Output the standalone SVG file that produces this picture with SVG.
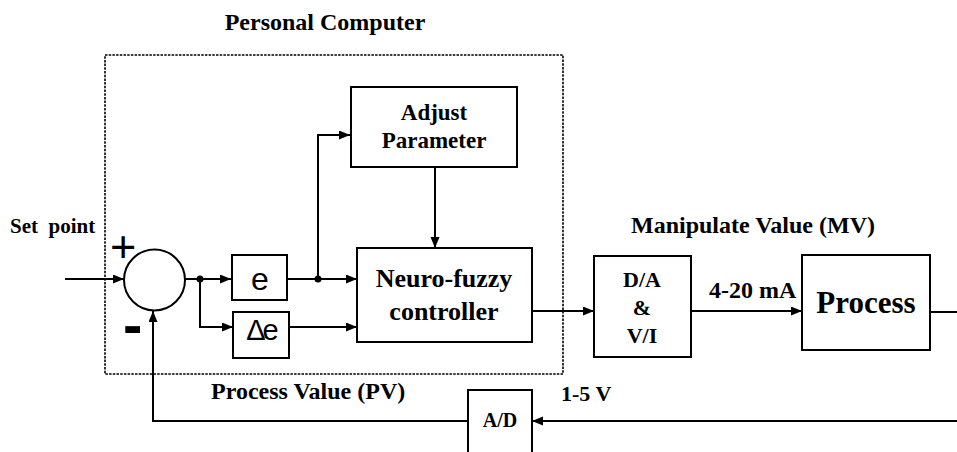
<svg xmlns="http://www.w3.org/2000/svg" width="957" height="452" viewBox="0 0 957 452">
<style>
.box{fill:#fff;stroke:#000;stroke-width:2}
.wire{fill:none;stroke:#000;stroke-width:2}
.lbl{font-family:"Liberation Serif","Times New Roman",serif;font-weight:bold;fill:#000}
.sans{font-family:"Liberation Sans",Arial,sans-serif;fill:#000}
.mid{text-anchor:middle}
</style>
<defs>
<marker id="arr" markerUnits="userSpaceOnUse" markerWidth="12" markerHeight="10" refX="11" refY="4.5" orient="auto">
<path d="M0,0 L11,4.5 L0,9 z" fill="#000"/>
</marker>
</defs>
<rect width="957" height="452" fill="#fff"/>

<g id="pc-boundary">
<rect x="105" y="55" width="458" height="319" fill="none" stroke="#000" stroke-width="1.6" stroke-dasharray="2.5 1.2"/>
<text class="lbl mid" x="325" y="30" font-size="24">Personal Computer</text>
</g>

<g id="connectors">
<path class="wire" d="M65,279 L124,279" marker-end="url(#arr)"/>
<path class="wire" d="M185,279 L231,279" marker-end="url(#arr)"/>
<path class="wire" d="M200,279 L200,327 L233,327" marker-end="url(#arr)"/>
<path class="wire" d="M287,279 L357,279" marker-end="url(#arr)"/>
<path class="wire" d="M318,279 L318,135 L350,135" marker-end="url(#arr)"/>
<path class="wire" d="M435,167 L435,248" marker-end="url(#arr)"/>
<path class="wire" d="M289,327 L357,327" marker-end="url(#arr)"/>
<path class="wire" d="M532,311 L594,311" marker-end="url(#arr)"/>
<path class="wire" d="M691,311 L802,311" marker-end="url(#arr)"/>
<path class="wire" d="M930,312 L957,312"/>
<path class="wire" d="M957,421 L532,421" marker-end="url(#arr)"/>
<path class="wire" d="M468,421 L153,421 L153,311" marker-end="url(#arr)"/>
<circle cx="200" cy="279" r="3.5" fill="#000"/>
<circle cx="318" cy="279" r="3.5" fill="#000"/>
</g>

<g id="sum">
<circle cx="154.5" cy="280" r="30.5" fill="#fff" stroke="#000" stroke-width="2"/>
<text class="sans" x="110" y="262" font-size="45">+</text>
<text class="sans" x="123" y="345" font-size="58" font-weight="bold">-</text>
</g>

<g id="error">
<rect class="box" x="232" y="255" width="55" height="45"/>
<text class="sans mid" x="260" y="290" font-size="32">e</text>
</g>

<g id="delta-error">
<rect class="box" x="233" y="312" width="56" height="46"/>
<text class="sans mid" x="261" y="340" font-size="29" letter-spacing="-3">Δe</text>
</g>

<g id="adjust">
<rect class="box" x="351" y="87" width="166" height="80"/>
<text class="lbl mid" x="434" y="120" font-size="23">Adjust</text>
<text class="lbl mid" x="434" y="148" font-size="23">Parameter</text>
</g>

<g id="nfc">
<rect class="box" x="357" y="248" width="175" height="94"/>
<text class="lbl mid" x="444" y="287" font-size="26">Neuro-fuzzy</text>
<text class="lbl mid" x="444" y="320" font-size="26">controller</text>
</g>

<g id="da">
<rect class="box" x="594" y="256" width="97" height="101"/>
<text class="lbl mid" x="642" y="287" font-size="22">D/A</text>
<text class="lbl mid" x="642" y="315" font-size="22">&amp;</text>
<text class="lbl mid" x="642" y="343" font-size="22">V/I</text>
</g>

<g id="process">
<rect class="box" x="802" y="255" width="128" height="95"/>
<text class="lbl mid" x="866" y="313" font-size="31">Process</text>
</g>

<g id="ad">
<rect class="box" x="468" y="390" width="64" height="75"/>
<text class="lbl mid" x="500" y="427" font-size="20">A/D</text>
</g>

<g id="labels">
<text class="lbl" x="10" y="233" font-size="21" xml:space="preserve">Set  point</text>
<text class="lbl mid" x="753" y="233" font-size="24">Manipulate Value (MV)</text>
<text class="lbl" x="709" y="298" font-size="24">4-20 mA</text>
<text class="lbl" x="211" y="399" font-size="24">Process Value (PV)</text>
<text class="lbl" x="561" y="401" font-size="22">1-5 V</text>
</g>
</svg>
